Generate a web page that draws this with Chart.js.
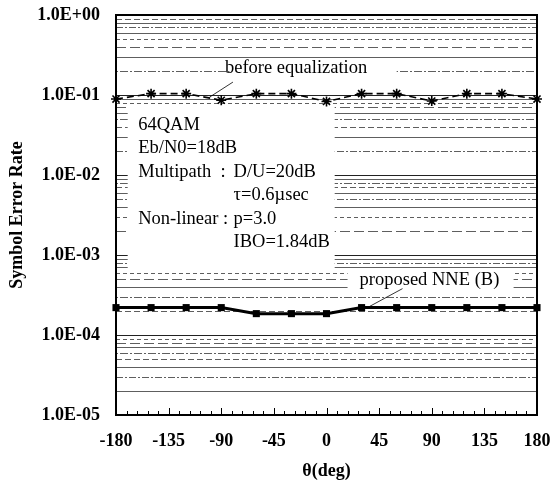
<!DOCTYPE html>
<html>
<head>
<meta charset="utf-8">
<script src="https://cdn.jsdelivr.net/npm/chart.js@4.4.1/dist/chart.umd.min.js"></script>
<style>
  html, body { margin: 0; padding: 0; background: #fff; }
  #wrap { width: 551px; height: 485px; }
</style>
</head>
<body>
<div id="wrap"><canvas id="serChart" width="551" height="485"></canvas></div>
<script>
// angle of arrival (deg)
const angles = [-180, -150, -120, -90, -60, -30, 0, 30, 60, 90, 120, 150, 180];
// symbol error rate before equalization
const beforeEq = [0.089, 0.104, 0.104, 0.086, 0.104, 0.104, 0.083, 0.104, 0.104, 0.084, 0.104, 0.104, 0.089];
// symbol error rate with the proposed NNE (B)
const proposedNNE = [2.2e-4, 2.2e-4, 2.2e-4, 2.2e-4, 1.85e-4, 1.85e-4, 1.85e-4, 2.2e-4, 2.2e-4, 2.2e-4, 2.2e-4, 2.2e-4, 2.2e-4];

const xTicks = [-180, -135, -90, -45, 0, 45, 90, 135, 180];
const yTicks = [1, 1e-1, 1e-2, 1e-3, 1e-4, 1e-5];
const yTickLabels = ["1.0E+00", "1.0E-01", "1.0E-02", "1.0E-03", "1.0E-04", "1.0E-05"];

const infoLines = [
  ["64QAM", ""],
  ["Eb/N0=18dB", ""],
  ["Multipath  :", "D/U=20dB"],
  ["", "\u03c4=0.6\u00b5sec"],
  ["Non-linear :", "p=3.0"],
  ["", "IBO=1.84dB"],
];

const SERIF = "'Liberation Serif', 'DejaVu Serif', serif";

// dash patterns for the minor log grid lines (scanned look)
const dashes = [[], [6, 3], [2, 2, 8, 2], [], [10, 4], [4, 3], [], [7, 2, 2, 2]];

const gridPlugin = {
  id: "gridPlugin",
  beforeDatasetsDraw(chart) {
    const { ctx, chartArea: a, scales } = chart;
    const y = scales.y, x = scales.x;
    ctx.save();
    // log grid
    for (let d = 0; d > -5; d--) {
      for (let m = 1; m <= 9; m++) {
        const v = m * Math.pow(10, d - 1);
        const py = Math.round(y.getPixelForValue(v)) + 0.5;
        ctx.beginPath();
        ctx.lineWidth = 1;
        if (m === 1) {
          ctx.strokeStyle = "#222";
          ctx.setLineDash([]);
        } else {
          ctx.strokeStyle = "#5e5e5e";
          ctx.setLineDash(dashes[(m + d * 3 + 40) % dashes.length]);
        }
        ctx.moveTo(a.left, py);
        ctx.lineTo(a.right, py);
        ctx.stroke();
      }
    }
    ctx.setLineDash([]);
    // white boxes behind the annotations
    ctx.fillStyle = "#fff";
    const bx1 = x.getPixelForValue(-170), bx2 = x.getPixelForValue(7);
    const by1 = y.getPixelForValue(0.073), by2 = y.getPixelForValue(6.8e-4);
    ctx.fillRect(bx1, by1, bx2 - bx1, by2 - by1);
    const lx1 = x.getPixelForValue(-83), lx2 = x.getPixelForValue(60);
    ctx.fillRect(lx1, y.getPixelForValue(0.27), lx2 - lx1, y.getPixelForValue(0.17) - y.getPixelForValue(0.27));
    const px1 = x.getPixelForValue(18), px2 = x.getPixelForValue(160);
    ctx.fillRect(px1, y.getPixelForValue(6.3e-4), px2 - px1, y.getPixelForValue(3.6e-4) - y.getPixelForValue(6.3e-4));

    // minor ticks on x axis
    ctx.strokeStyle = "#000";
    ctx.lineWidth = 1;
    for (let t = -180; t <= 180; t += 9) {
      const px = Math.round(x.getPixelForValue(t)) + 0.5;
      const len = t % 45 === 0 ? 7 : 4;
      ctx.beginPath();
      ctx.moveTo(px, a.bottom);
      ctx.lineTo(px, a.bottom - len);
      ctx.stroke();
    }
    ctx.restore();
  },
  afterDatasetsDraw(chart) {
    const { ctx, chartArea: a, scales } = chart;
    const y = scales.y, x = scales.x;
    ctx.save();
    // frame
    ctx.strokeStyle = "#000";
    ctx.lineWidth = 2;
    ctx.strokeRect(a.left, a.top, a.right - a.left, a.bottom - a.top);

    // info text
    ctx.fillStyle = "#000";
    ctx.font = "18.5px " + SERIF;
    ctx.textBaseline = "middle";
    ctx.textAlign = "left";
    const tx = x.getPixelForValue(-161);
    const tx2 = x.getPixelForValue(-79.5);
    const ty = y.getPixelForValue(0.042);
    infoLines.forEach((l, i) => {
      const py = ty + i * 23.4;
      if (l[0]) ctx.fillText(l[0], tx, py);
      if (l[1]) ctx.fillText(l[1], tx2, py);
    });

    // series labels
    ctx.textAlign = "center";
    ctx.fillText("before equalization", x.getPixelForValue(-26), y.getPixelForValue(0.215));
    ctx.fillText("proposed NNE (B)", x.getPixelForValue(88), y.getPixelForValue(4.8e-4));

    // leader lines
    ctx.lineWidth = 0.8;
    ctx.beginPath();
    ctx.moveTo(x.getPixelForValue(-100), y.getPixelForValue(0.094));
    ctx.lineTo(x.getPixelForValue(-80), y.getPixelForValue(0.145));
    ctx.moveTo(x.getPixelForValue(35), y.getPixelForValue(2.2e-4));
    ctx.lineTo(x.getPixelForValue(65), y.getPixelForValue(3.8e-4));
    ctx.stroke();
    ctx.restore();
  },
};

const ctx = document.getElementById("serChart");
new Chart(ctx, {
  type: "line",
  data: {
    datasets: [
      {
        label: "before equalization",
        data: angles.map((a, i) => ({ x: a, y: beforeEq[i] })),
        borderColor: "#000",
        backgroundColor: "#000",
        borderWidth: 1.6,
        borderDash: [7, 4],
        tension: 0,
        pointStyle: "star",
        pointRadius: 5,
        pointBorderWidth: 1.6,
      },
      {
        label: "proposed NNE (B)",
        data: angles.map((a, i) => ({ x: a, y: proposedNNE[i] })),
        borderColor: "#000",
        backgroundColor: "#000",
        borderWidth: 3,
        tension: 0,
        pointStyle: "rect",
        pointRadius: 5,
        pointBorderWidth: 0,
      },
    ],
  },
  options: {
    responsive: false,
    animation: false,
    clip: false,
    layout: { padding: { top: 15, right: 14, left: 0, bottom: 0 } },
    plugins: {
      legend: { display: false },
      tooltip: { enabled: false },
    },
    scales: {
      x: {
        type: "linear",
        min: -180,
        max: 180,
        afterBuildTicks: (s) => { s.ticks = xTicks.map((v) => ({ value: v })); },
        afterFit: (s) => { s.height = 70; s.paddingLeft = 0; s.paddingRight = 0; },
        grid: { display: false, drawTicks: false },
        border: { display: false },
        ticks: {
          padding: 16,
          color: "#000",
          font: { family: SERIF, size: 18, weight: "bold" },
          maxRotation: 0,
          autoSkip: false,
        },
        title: {
          display: true,
          text: "\u03b8(deg)",
          color: "#000",
          font: { family: SERIF, size: 18, weight: "bold" },
          padding: { top: 0, bottom: 3 },
        },
      },
      y: {
        type: "logarithmic",
        min: 1e-5,
        max: 1,
        afterBuildTicks: (s) => { s.ticks = yTicks.map((v) => ({ value: v })); },
        afterFit: (s) => { s.width = 116; s.paddingTop = 0; s.paddingBottom = 0; },
        grid: { display: false, drawTicks: false },
        border: { display: false },
        ticks: {
          padding: 16,
          color: "#000",
          autoSkip: false,
          font: { family: SERIF, size: 18, weight: "bold" },
          callback: (v) => yTickLabels[yTicks.findIndex((t) => Math.abs(t - v) / t < 1e-6)] || "",
        },
        title: {
          display: true,
          text: "Symbol Error Rate",
          color: "#000",
          font: { family: SERIF, size: 18, weight: "bold" },
          padding: { top: 7, bottom: 0 },
        },
      },
    },
  },
  plugins: [gridPlugin],
});
</script>
</body>
</html>
